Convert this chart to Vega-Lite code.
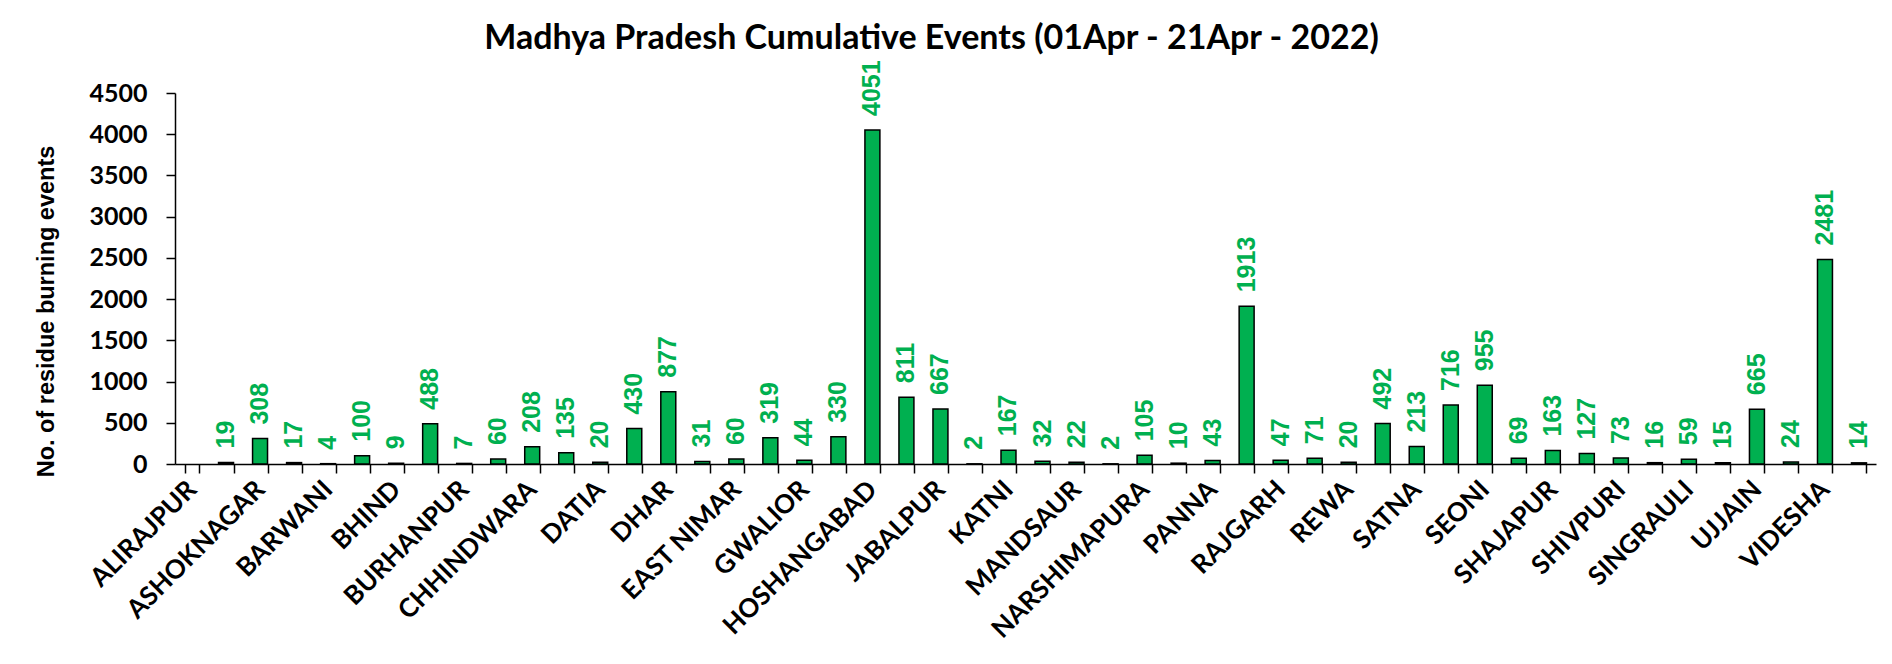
{
  "$schema": "https://vega.github.io/schema/vega-lite/v6.json",
  "autosize": {"type": "none"},
  "width": 1701,
  "height": 371,
  "padding": {"left": 175, "top": 93, "right": 16, "bottom": 200},
  "background": "white",
  "title": {
    "text": "Madhya Pradesh Cumulative Events (01Apr - 21Apr - 2022)",
    "font": "Lato",
    "fontSize": 34,
    "fontWeight": "bold",
    "color": "black",
    "anchor": "middle",
    "dx": -94,
    "offset": 4
  },
  "data": {
    "values": [
      {"district": "ALIRAJPUR", "events": null},
      {"district": "ANUPPUR", "events": 19},
      {"district": "ASHOKNAGAR", "events": 308},
      {"district": "BALAGHAT", "events": 17},
      {"district": "BARWANI", "events": 4},
      {"district": "BETUL", "events": 100},
      {"district": "BHIND", "events": 9},
      {"district": "BHOPAL", "events": 488},
      {"district": "BURHANPUR", "events": 7},
      {"district": "CHHATARPUR", "events": 60},
      {"district": "CHHINDWARA", "events": 208},
      {"district": "DAMOH", "events": 135},
      {"district": "DATIA", "events": 20},
      {"district": "DEWAS", "events": 430},
      {"district": "DHAR", "events": 877},
      {"district": "DINDORI", "events": 31},
      {"district": "EAST NIMAR", "events": 60},
      {"district": "GUNA", "events": 319},
      {"district": "GWALIOR", "events": 44},
      {"district": "HARDA", "events": 330},
      {"district": "HOSHANGABAD", "events": 4051},
      {"district": "INDORE", "events": 811},
      {"district": "JABALPUR", "events": 667},
      {"district": "JHABUA", "events": 2},
      {"district": "KATNI", "events": 167},
      {"district": "MANDLA", "events": 32},
      {"district": "MANDSAUR", "events": 22},
      {"district": "MORENA", "events": 2},
      {"district": "NARSHIMAPURA", "events": 105},
      {"district": "NEEMUCH", "events": 10},
      {"district": "PANNA", "events": 43},
      {"district": "RAISEN", "events": 1913},
      {"district": "RAJGARH", "events": 47},
      {"district": "RATLAM", "events": 71},
      {"district": "REWA", "events": 20},
      {"district": "SAGAR", "events": 492},
      {"district": "SATNA", "events": 213},
      {"district": "SEHORE", "events": 716},
      {"district": "SEONI", "events": 955},
      {"district": "SHAHDOL", "events": 69},
      {"district": "SHAJAPUR", "events": 163},
      {"district": "SHEOPUR", "events": 127},
      {"district": "SHIVPURI", "events": 73},
      {"district": "SIDHI", "events": 16},
      {"district": "SINGRAULI", "events": 59},
      {"district": "TIKAMGARH", "events": 15},
      {"district": "UJJAIN", "events": 665},
      {"district": "UMARIA", "events": 24},
      {"district": "VIDESHA", "events": 2481},
      {"district": "WEST NIMAR", "events": 14}
    ]
  },
  "encoding": {
    "x": {
      "field": "district",
      "type": "nominal",
      "sort": null,
      "scale": {
        "domain": ["ALIRAJPUR","ANUPPUR","ASHOKNAGAR","BALAGHAT","BARWANI","BETUL","BHIND","BHOPAL","BURHANPUR","CHHATARPUR","CHHINDWARA","DAMOH","DATIA","DEWAS","DHAR","DINDORI","EAST NIMAR","GUNA","GWALIOR","HARDA","HOSHANGABAD","INDORE","JABALPUR","JHABUA","KATNI","MANDLA","MANDSAUR","MORENA","NARSHIMAPURA","NEEMUCH","PANNA","RAISEN","RAJGARH","RATLAM","REWA","SAGAR","SATNA","SEHORE","SEONI","SHAHDOL","SHAJAPUR","SHEOPUR","SHIVPURI","SIDHI","SINGRAULI","TIKAMGARH","UJJAIN","UMARIA","VIDESHA","WEST NIMAR"],
        "paddingInner": 0.56,
        "paddingOuter": 0.28
      },
      "axis": {
        "title": null,
        "labelAngle": -45,
        "labelAlign": "right",
        "labelBaseline": "middle",
        "labelFont": "Lato",
        "labelFontSize": 26,
        "labelFontWeight": "bold",
        "labelColor": "black",
        "labelPadding": 12,
        "labelLimit": 0,
        "labelOverlap": false,
        "labelExpr": "indexof(['ALIRAJPUR','ASHOKNAGAR','BARWANI','BHIND','BURHANPUR','CHHINDWARA','DATIA','DHAR','EAST NIMAR','GWALIOR','HOSHANGABAD','JABALPUR','KATNI','MANDSAUR','NARSHIMAPURA','PANNA','RAJGARH','REWA','SATNA','SEONI','SHAJAPUR','SHIVPURI','SINGRAULI','UJJAIN','VIDESHA'], datum.value) >= 0 ? datum.label : ''",
        "tickBand": "extent",
        "tickSize": 9,
        "tickColor": "black",
        "tickWidth": 1.5,
        "domainColor": "black",
        "domainWidth": 1.5
      }
    },
    "y": {
      "field": "events",
      "type": "quantitative",
      "scale": {"domain": [0, 4500], "nice": false},
      "axis": {
        "values": [0, 500, 1000, 1500, 2000, 2500, 3000, 3500, 4000, 4500],
        "format": "d",
        "grid": false,
        "title": "No. of residue burning events",
        "titleFont": "Liberation Sans",
        "titleFontSize": 23.5,
        "titleFontWeight": "bold",
        "titleColor": "black",
        "titlePadding": 30,
        "titleY": 218,
        "labelFont": "Lato",
        "labelFontSize": 25,
        "labelFontWeight": "bold",
        "labelColor": "black",
        "labelPadding": 19,
        "tickSize": 9,
        "tickColor": "black",
        "tickWidth": 1.5,
        "domainColor": "black",
        "domainWidth": 1.5
      }
    }
  },
  "layer": [
    {
      "mark": {"type": "bar", "color": "#00B050", "stroke": "black", "strokeWidth": 1.5}
    },
    {
      "mark": {
        "type": "text",
        "angle": 270,
        "align": "left",
        "baseline": "middle",
        "dx": 14,
        "font": "Liberation Sans",
        "fontSize": 25,
        "fontWeight": "bold",
        "color": "#00B050"
      },
      "encoding": {"text": {"field": "events", "type": "quantitative", "format": "d"}}
    }
  ],
  "config": {"view": {"stroke": null}}
}
